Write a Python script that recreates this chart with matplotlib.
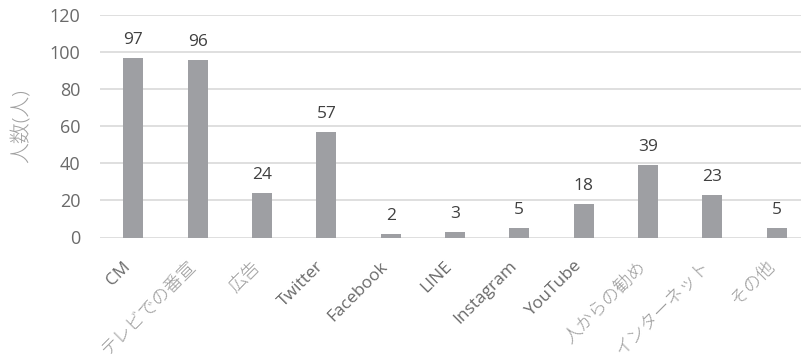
import matplotlib.pyplot as plt
from matplotlib.transforms import ScaledTranslation

plt.rcParams['font.family'] = ['Open Sans', 'Noto Sans CJK JP', 'DejaVu Sans']

# 情報源ごとの人数
categories = ["CM", "テレビでの番宣", "広告", "Twitter", "Facebook", "LINE",
              "Instagram", "YouTube", "人からの勧め", "インターネット", "その他"]
counts = [97, 96, 24, 57, 2, 3, 5, 18, 39, 23, 5]
y_ticks = [0, 20, 40, 60, 80, 100, 120]

fig = plt.figure(figsize=(8.01, 3.58), dpi=100)
ax = fig.add_axes([100 / 801, 1 - 237.5 / 358, 701 / 801, 222.5 / 358])

x = list(range(len(categories)))
ax.bar(x, counts, width=0.31, color="#9e9fa3", zorder=2)

for xi, v in zip(x, counts):
    ax.annotate(str(v), (xi, v), xytext=(0, 10), textcoords="offset points",
                ha="center", va="baseline", fontsize=12.5, color="#404040")

ax.set_ylim(0, 120)
ax.set_xlim(-0.52, 10.38)
ax.set_yticks(y_ticks)
ax.yaxis.grid(True, color="#d9d9d9", linewidth=1.2, zorder=0)
for s in ax.spines.values():
    s.set_visible(False)

ax.tick_params(axis="y", length=0, pad=14, labelsize=13, labelcolor="#6a6a6a")
ax.tick_params(axis="x", length=0, pad=19, labelsize=12.5)
ax.set_xticks(x)
ax.set_xticklabels(categories, rotation=45, ha="right", va="center",
                   rotation_mode="anchor")
shift = ScaledTranslation(-5 / 100, 0, fig.dpi_scale_trans)
for lab in ax.get_xticklabels():
    lab.set_transform(lab.get_transform() + shift)
    # 日本語のラベルは細く薄めの灰色
    if lab.get_text().isascii():
        lab.set_color("#6a6a6a")
    else:
        lab.set_color("#9a9a9a")
        lab.set_fontsize(13)
        lab.set_fontweight("light")

ax.set_ylabel("人数(人)", fontsize=15, color="#a0a0a0", labelpad=12,
              fontweight="light")

fig.savefig("out.png", dpi=100)
